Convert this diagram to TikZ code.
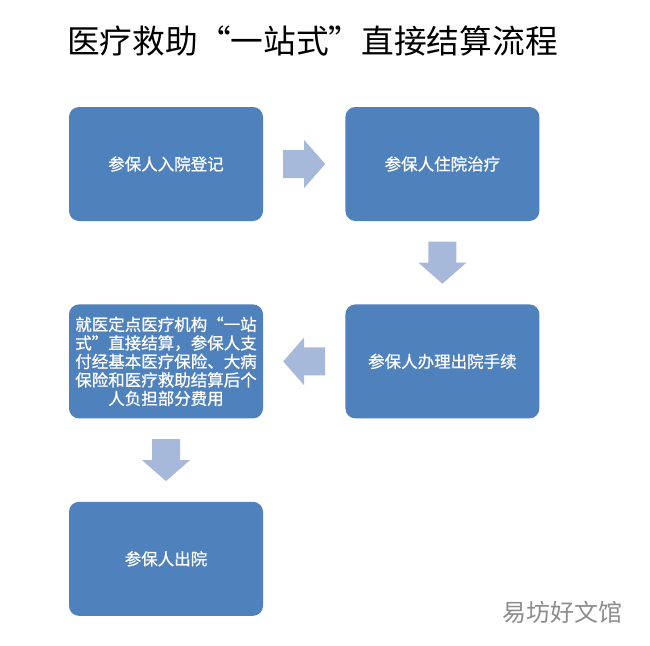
\documentclass[tikz,border=0pt]{standalone}
\usepackage{fontspec}
\setmainfont{Noto Sans CJK SC}
\newfontfamily\boxfont[FakeBold=0.8]{Noto Sans CJK SC}
\usepackage{xcolor}
\usetikzlibrary{positioning, calc}

\definecolor{boxblue}{RGB}{79,129,189}
\definecolor{arrowblue}{RGB}{167,185,218}

\begin{document}
\begin{tikzpicture}[
    x=1pt, y=1pt,
    node distance=83pt and 82pt,
    stepbox/.style={rectangle, fill=boxblue, rounded corners=10pt, minimum width=194pt, minimum height=114pt, align=center, text=white, font=\boxfont\fontsize{16.5}{18.5}\selectfont, inner sep=4pt},
    flowarrow/.pic={\fill[arrowblue] (-21,-14) -- (0,-14) -- (0,-24) -- (21,0) -- (0,24) -- (0,14) -- (-21,14) -- cycle;},
]
\useasboundingbox (0,0) rectangle (650,-645);

% Title
\node[anchor=west, inner sep=0, font=\fontsize{32.7}{36}\selectfont] (title) at (67,-41) {医疗救助“一站式”直接结算流程};

% Steps
\node[stepbox] (admit) at (166,-164) {参保人入院登记};
\node[stepbox, right=of admit] (stay) {参保人住院治疗};
\node[stepbox, below=of stay] (discharge) {参保人办理出院手续};
\node[stepbox, left=of discharge] (settle) {就医定点医疗机构“一站\\式”直接结算，参保人支\\付经基本医疗保险、大病\\保险和医疗救助结算后个\\人负担部分费用};
\node[stepbox, below=of settle] (leave) {参保人出院};

% Block arrows
\pic at ($(admit.east)!0.5!(stay.west)$) {flowarrow};
\pic[rotate=-90] at ($(stay.south)!0.5!(discharge.north)$) {flowarrow};
\pic[rotate=180] at ($(discharge.west)!0.5!(settle.east)$) {flowarrow};
\pic[rotate=-90] at ($(settle.south)!0.5!(leave.north)$) {flowarrow};

% Watermark
\node[font=\fontsize{24}{26}\selectfont, text=black!45] (mark) at (562,-612) {易坊好文馆};

\end{tikzpicture}
\end{document}
